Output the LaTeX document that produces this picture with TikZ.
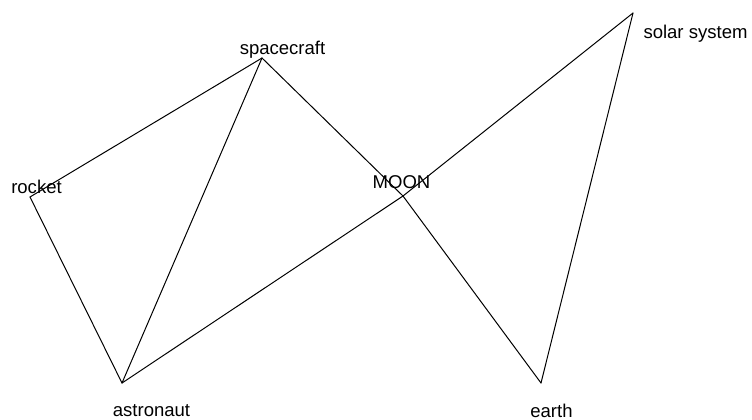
\documentclass[tikz,border=0pt]{standalone}
\usepackage{fontspec}
\setmainfont{Liberation Sans}
\usepackage{tikz}

\begin{document}
\begin{tikzpicture}[x=0.75pt,y=-0.75pt,line cap=round,line join=round,
  edge/.style={black,line width=0.75pt},
  lbl/.style={anchor=base,inner sep=0pt,font=\fontsize{13.9}{16}\selectfont}]
\useasboundingbox (0,0) rectangle (752,419);
\coordinate (spacecraft) at (262,58);
\coordinate (rocket) at (30,197);
\coordinate (moon) at (403,196);
\coordinate (solar) at (633,13);
\coordinate (astronaut) at (122,383);
\coordinate (earth) at (541,383);
\draw[edge] (rocket) -- (spacecraft);
\draw[edge] (rocket) -- (astronaut);
\draw[edge] (spacecraft) -- (astronaut);
\draw[edge] (spacecraft) -- (moon);
\draw[edge] (moon) -- (earth);
\draw[edge] (astronaut) -- (moon);
\draw[edge] (moon) -- (solar);
\draw[edge] (solar) -- (earth);
\node[lbl] (spacecraft-lbl) at (282.5,54) {spacecraft};
\node[lbl] (rocket-lbl) at (36.5,193) {rocket};
\node[lbl] (moon-lbl) at (401.5,188) {MOON};
\node[lbl] (solar-lbl) at (695.5,38) {solar system};
\node[lbl] (astronaut-lbl) at (151.5,416) {astronaut};
\node[lbl] (earth-lbl) at (551.5,417) {earth};
\end{tikzpicture}
\end{document}
